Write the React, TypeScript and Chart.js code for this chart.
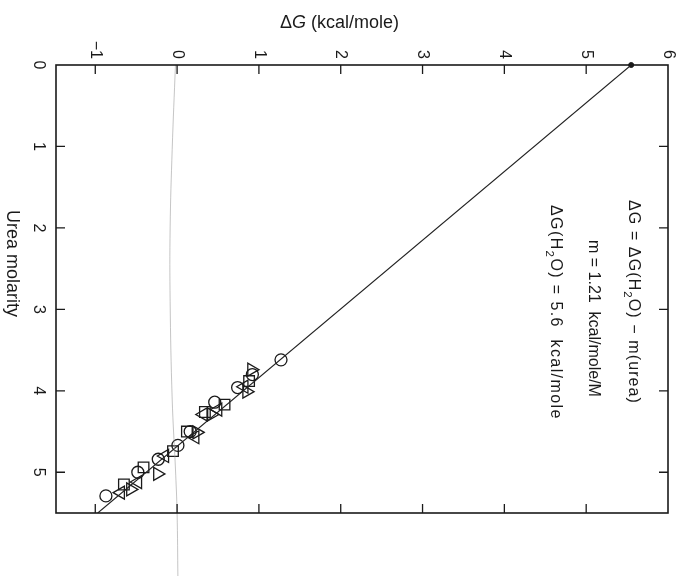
import React, { useEffect, useRef } from 'react';
import { Chart, registerables } from 'chart.js';
Chart.register(...registerables);

const W = 678;
const H = 576;

// Axis ticks
const dgTicks = [-1, 0, 1, 2, 3, 4, 5, 6];
const dgTickLabels = ['−1', '0', '1', '2', '3', '4', '5', '6'];
const ureaTicks = [0, 1, 2, 3, 4, 5];
const ureaTickLabels = ['0', '1', '2', '3', '4', '5'];

// Data: ΔG (kcal/mole) vs urea molarity
const circleDG = [1.27, 0.92, 0.74, 0.46, 0.16, 0.01, -0.23, -0.48, -0.87];
const circleUrea = [3.62, 3.8, 3.96, 4.14, 4.5, 4.67, 4.84, 5.0, 5.29];
const squareDG = [0.88, 0.58, 0.34, 0.12, -0.05, -0.41, -0.65];
const squareUrea = [3.88, 4.17, 4.26, 4.5, 4.74, 4.94, 5.15];
const triRightDG = [0.91, 0.85, 0.42, 0.24, -0.24, -0.57];
const triRightUrea = [3.74, 4.01, 4.29, 4.51, 5.02, 5.21];
const triLeftDG = [0.82, 0.5, 0.32, 0.22, -0.15, -0.48, -0.69];
const triLeftUrea = [3.95, 4.23, 4.29, 4.57, 4.8, 5.12, 5.25];

// Linear fit line
const fitDG = [5.55, -0.97];
const fitUrea = [0, 5.5];

// Faint zero reference line (wavy in scan)
const zeroDG = [-0.02, -0.06, -0.085, -0.085, -0.06, -0.02, 0.0, 0.01];
const zeroUrea = [0, 1.04, 2.0, 2.9, 4.1, 4.96, 5.5, 6.3];

const FAMILY = '"Liberation Sans", Arial, Helvetica, sans-serif';
const INK = '#1a1a1a';

const pts = (xs: number[], ys: number[]) => xs.map((x, i) => ({ x, y: ys[i] }));

type Seg = [string, 'n' | 's' | 'i'];

function drawRotSegs(ctx: CanvasRenderingContext2D, segs: Seg[], x: number, y: number, size: number, spacing = 0) {
  ctx.save();
  ctx.translate(x, y);
  ctx.rotate(Math.PI / 2);
  (ctx as any).letterSpacing = spacing + 'px';
  ctx.textAlign = 'left';
  ctx.textBaseline = 'alphabetic';
  let cx = 0;
  for (const [t, s] of segs) {
    const fs = s === 's' ? size * 0.72 : size;
    ctx.font = `${s === 'i' ? 'italic ' : ''}${fs}px ${FAMILY}`;
    const dy = s === 's' ? size * 0.3 : 0;
    ctx.fillText(t, cx, dy);
    cx += ctx.measureText(t).width;
  }
  ctx.restore();
}

const decorPlugin = {
  id: 'decor',
  afterDraw(chart: any) {
    const ctx: CanvasRenderingContext2D = chart.ctx;
    const xs = chart.scales.x;
    const ys = chart.scales.y;
    const a = chart.chartArea;
    ctx.save();
    ctx.strokeStyle = INK;
    ctx.fillStyle = INK;
    // frame
    ctx.lineWidth = 1.6;
    ctx.strokeRect(a.left, a.top, a.right - a.left, a.bottom - a.top);
    // inward ticks
    ctx.lineWidth = 1.3;
    const TL = 9;
    ctx.beginPath();
    dgTicks.forEach((v) => {
      const px = xs.getPixelForValue(v);
      if (px > a.left + 1 && px < a.right - 1) {
        ctx.moveTo(px, a.top);
        ctx.lineTo(px, a.top + TL);
        ctx.moveTo(px, a.bottom);
        ctx.lineTo(px, a.bottom - TL);
      }
    });
    ureaTicks.forEach((v) => {
      const py = ys.getPixelForValue(v);
      if (py > a.top + 1 && py < a.bottom - 1) {
        ctx.moveTo(a.left, py);
        ctx.lineTo(a.left + TL, py);
        ctx.moveTo(a.right, py);
        ctx.lineTo(a.right - TL, py);
      }
    });
    ctx.stroke();

    // tick labels (rotated clockwise)
    ctx.font = `16px ${FAMILY}`;
    dgTicks.forEach((v, i) => {
      const px = xs.getPixelForValue(v);
      ctx.save();
      ctx.translate(px, a.top - 6);
      ctx.rotate(Math.PI / 2);
      ctx.textAlign = 'right';
      ctx.textBaseline = 'middle';
      ctx.fillText(dgTickLabels[i], 0, 0);
      ctx.restore();
    });
    ureaTicks.forEach((v, i) => {
      const py = ys.getPixelForValue(v);
      ctx.save();
      ctx.translate(a.left - 22, py);
      ctx.rotate(Math.PI / 2);
      ctx.textAlign = 'center';
      ctx.textBaseline = 'alphabetic';
      ctx.fillText(ureaTickLabels[i], 0, 0);
      ctx.restore();
    });

    // top axis title
    ctx.textAlign = 'left';
    ctx.textBaseline = 'alphabetic';
    let tx = 280;
    const ty = 28;
    ctx.font = `18px ${FAMILY}`;
    ctx.fillText('Δ', tx, ty);
    tx += ctx.measureText('Δ').width;
    ctx.font = `italic 18px ${FAMILY}`;
    ctx.fillText('G', tx, ty);
    tx += ctx.measureText('G').width;
    ctx.font = `18px ${FAMILY}`;
    ctx.fillText(' (kcal/mole)', tx, ty);

    // left axis title (rotated)
    drawRotSegs(ctx, [['Urea molarity', 'n']], 7, 210, 18);

    // annotation
    drawRotSegs(ctx, [['ΔG = ΔG(H', 'n'], ['2', 's'], ['O) − m(urea)', 'n']], 629, 200, 16, 1.1);
    drawRotSegs(ctx, [['m = 1.21  kcal/mole/M', 'n']], 589, 240, 16);
    drawRotSegs(ctx, [['ΔG(H', 'n'], ['2', 's'], ['O) = 5.6  kcal/mole', 'n']], 551, 205, 16, 1.4);
    ctx.restore();
  },
};

export default function App() {
  const ref = useRef<HTMLCanvasElement | null>(null);
  useEffect(() => {
    if (!ref.current) return;
    const marker = (data: any[], style: string, rotation: number, radius: number) => ({
      data,
      pointStyle: style,
      rotation,
      pointRadius: radius,
      pointBorderWidth: 1.3,
      borderColor: INK,
      backgroundColor: 'rgba(0,0,0,0)',
      showLine: false,
    });
    const chart = new Chart(ref.current, {
      type: 'scatter',
      data: {
        datasets: [
          {
            data: pts(zeroDG, zeroUrea),
            showLine: true,
            borderColor: 'rgba(150,150,150,0.55)',
            borderWidth: 1,
            pointRadius: 0,
            tension: 0.4,
            clip: false,
          } as any,
          {
            data: pts(fitDG, fitUrea),
            showLine: true,
            borderColor: '#222',
            borderWidth: 1.1,
            pointRadius: 0,
          },
          {
            data: [{ x: fitDG[0], y: fitUrea[0] }],
            pointRadius: 2.5,
            backgroundColor: INK,
            borderColor: INK,
            clip: false,
          } as any,
          marker(pts(circleDG, circleUrea), 'circle', 0, 6),
          marker(pts(squareDG, squareUrea), 'rect', 0, 7.5),
          marker(pts(triRightDG, triRightUrea), 'triangle', 90, 7.5),
          marker(pts(triLeftDG, triLeftUrea), 'triangle', -90, 7.5),
        ],
      },
      options: {
        responsive: false,
        animation: false,
        devicePixelRatio: 1,
        layout: { padding: { left: 56, top: 65, right: 10, bottom: 63 } },
        plugins: { legend: { display: false }, tooltip: { enabled: false } },
        scales: {
          x: { type: 'linear', position: 'top', min: -1.48, max: 6, display: false },
          y: { type: 'linear', reverse: true, min: 0, max: 5.5, display: false },
        },
      },
      plugins: [decorPlugin],
    });
    return () => chart.destroy();
  }, []);
  return (
    <div style={{ position: 'absolute', left: 0, top: 0, width: W, height: H, background: '#fff' }}>
      <canvas ref={ref} width={W} height={H} style={{ display: 'block', width: W, height: H }} />
    </div>
  );
}
